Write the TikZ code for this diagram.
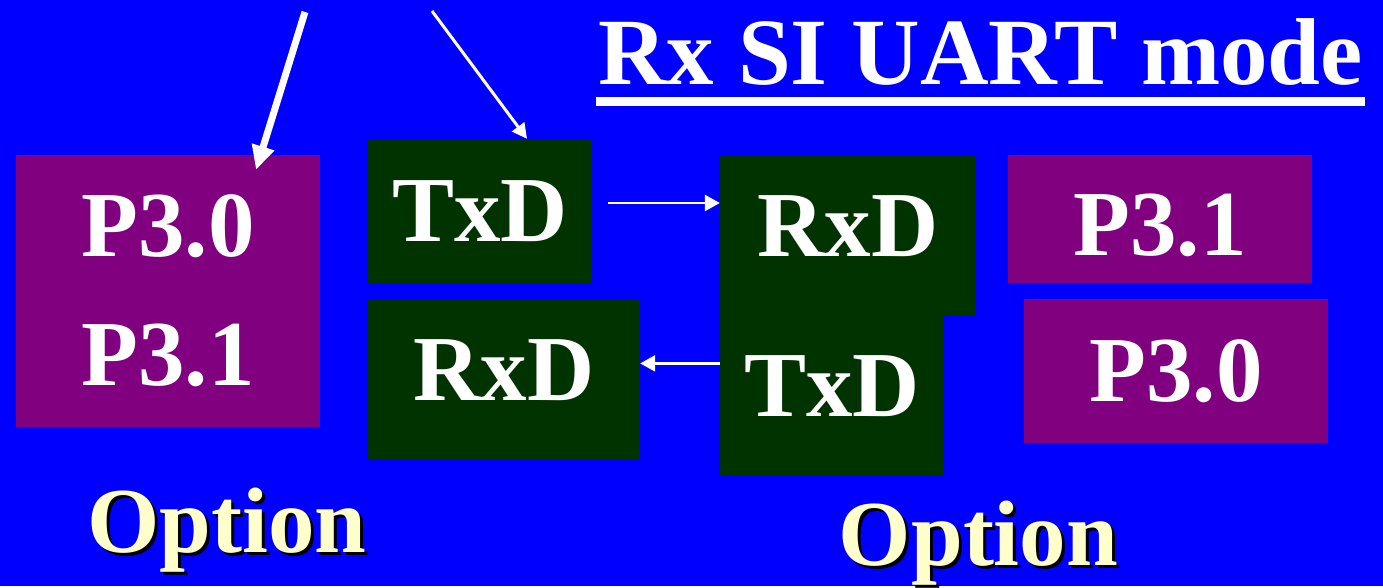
\documentclass[tikz,border=0pt]{standalone}
\usepackage{fontspec}
\setmainfont{Liberation Serif}
\usepackage{tikz}
\usetikzlibrary{arrows.meta,positioning}
\definecolor{slideblue}{RGB}{0,0,255}
\definecolor{portpurple}{RGB}{128,0,128}
\definecolor{pindark}{RGB}{0,51,0}
\definecolor{optcream}{RGB}{255,255,204}

\begin{document}
\begin{tikzpicture}[x=1pt,y=-1pt,
   big/.style={font=\fontsize{93}{129}\selectfont\bfseries,text=white},
   port/.style={big,fill=portpurple,inner sep=0pt,align=center},
   pin/.style={big,fill=pindark,inner sep=0pt},
   opt/.style={font=\fontsize{93}{100}\selectfont\bfseries,inner sep=0pt,anchor=base},
   sig/.style={white,line width=2.5pt,-{Triangle[width=16pt,length=15pt]}}]
  \fill[slideblue] (0,0) rectangle (1383,586);
  \node[font=\fontsize{95}{100}\selectfont\bfseries,text=white,inner sep=0pt,anchor=base] (title) at (980.5,85) {Rx SI UART mode};
  \draw[white,line width=9pt] ([xshift=-2pt,yshift=-16.5pt]title.base west) -- ([xshift=2pt,yshift=-16.5pt]title.base east);
  \node[port,minimum width=304pt,minimum height=272pt] (pl) at (168,291) {P3.0\\P3.1};
  \node[pin,minimum width=224pt,minimum height=144pt] (tx1) at (480,211) {TxD};
  \node[pin,minimum width=272pt,minimum height=160pt,text depth=19pt,below=16pt of tx1.south west,anchor=north west] (rx1) {RxD};
  \node[pin,minimum width=256pt,minimum height=160pt,text depth=18pt] (rx2) at (848,235) {RxD};
  \node[pin,minimum width=224pt,minimum height=160pt,text depth=18pt,below=0pt of rx2.south west,anchor=north west] (tx2) {TxD};
  \node[port,minimum width=304pt,minimum height=128pt,text height=75pt] (p31) at (1160,219) {P3.1};
  \node[port,minimum width=304pt,minimum height=144pt] (p30) at (1176,371) {P3.0};
  \coordinate (srca) at (305,12);
  \coordinate (srcb) at (432,11);
  \draw[white,line width=7pt,-{Triangle[width=22pt,length=24pt]}] (srca) -- ([xshift=88pt,yshift=-15pt]pl.north);
  \draw[white,line width=3pt,-{Triangle[width=15pt,length=15pt]}] (srcb) -- ([xshift=47pt]tx1.north);
  \draw[sig,shorten <=16pt] ([yshift=8pt]tx1.east) -- ([yshift=8pt]tx1.east -| rx2.west);
  \draw[sig] ([yshift=16pt]rx1.east -| tx2.west) -- ([yshift=16pt]rx1.east);
  \node[opt,text=black] (optlsh) at (230,555) {Option};
  \node[opt,text=optcream] (optl) at (227,552) {Option};
  \node[opt,text=black] (optrsh) at (981.5,568) {Option};
  \node[opt,text=optcream] (optr) at (978.5,565) {Option};
\end{tikzpicture}
\end{document}
